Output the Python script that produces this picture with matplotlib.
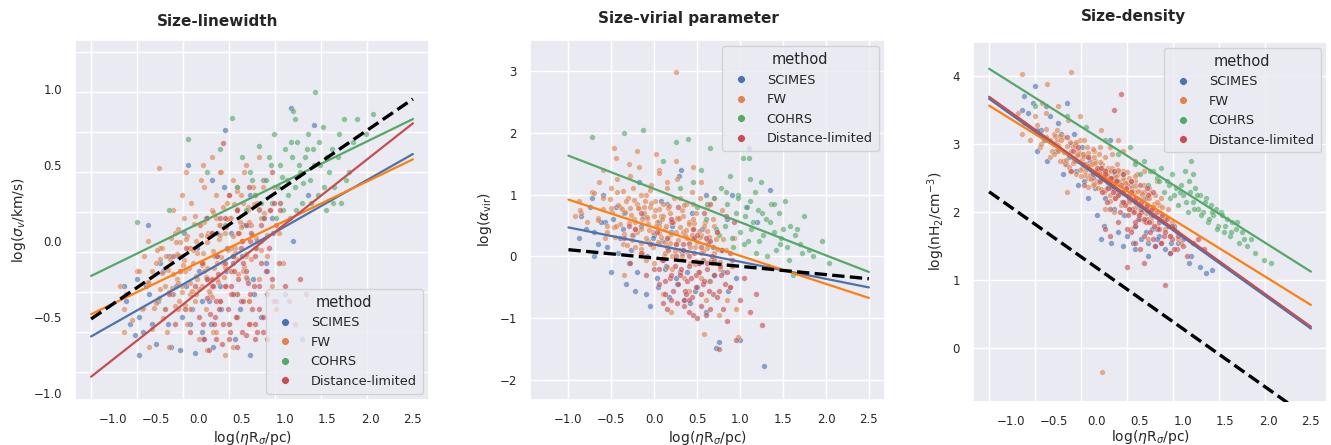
import numpy as np
import matplotlib
matplotlib.use("Agg")
import matplotlib.pyplot as plt
import seaborn as sns
from matplotlib.lines import Line2D

sns.set_theme(style="darkgrid")
plt.rcParams['font.family'] = ['DejaVu Sans']

### DATA
methods = ["SCIMES", "FW", "COHRS", "Distance-limited"]
point_colors = ["#4C72B0", "#DD8452", "#55A868", "#C44E52"]

# FW clouds: size, linewidth, virial parameter, density
fw_x = [-0.85, -0.78, -0.72, -0.66, -0.60, -0.55, -0.50, -0.47, -0.43, -0.40,
        -0.37, -0.34, -0.31, -0.28, -0.26, -0.24, -0.22, -0.20, -0.18, -0.16,
        -0.14, -0.12, -0.10, -0.09, -0.07, -0.05, -0.04, -0.02, 0.00, 0.01,
        0.03, 0.05, 0.06, 0.08, 0.10, 0.11, 0.13, 0.15, 0.16, 0.18,
        0.20, 0.21, 0.23, 0.25, 0.26, 0.28, 0.30, 0.32, 0.33, 0.35,
        0.37, 0.38, 0.40, 0.42, 0.44, 0.45, 0.47, 0.49, 0.51, 0.53,
        0.55, 0.57, 0.59, 0.61, 0.63, 0.65, 0.68, 0.70, 0.73, 0.76,
        0.79, 0.83, 0.88, 0.93, -0.92, -0.88, -0.64, -0.58, -0.30, -0.87,
        -0.45, -0.20, 0.05, 0.25, -0.35, 0.10, 0.40, 0.55, 0.70, 0.85,
        0.95, -0.15, 0.20, 0.45, 0.15, -0.60, 0.60, 0.30, 0.75, 0.02,
        0.25, 0.06, 0.98, 0.58, -0.47,
        -0.55, -0.52, -0.49, -0.46, -0.43, -0.40, -0.38, -0.35, -0.33, -0.30,
        -0.28, -0.26, -0.24, -0.22, -0.20, -0.18, -0.16, -0.14, -0.12, -0.10,
        -0.08, -0.06, -0.04, -0.02, 0.00, 0.02, 0.04, 0.06, 0.08, 0.10,
        0.12, 0.14, 0.16, 0.18, 0.20, 0.22, 0.24, 0.26, 0.28, 0.30,
        0.32, 0.34, 0.36, 0.38, 0.40, 0.42, 0.44, 0.46, 0.48, 0.50,
        0.52, 0.55, 0.58, 0.61, 0.64, 0.67, 0.70, 0.73, 0.76, 0.80,
        -0.50, -0.45, -0.42, -0.36, -0.32, -0.27, -0.23, -0.19, -0.15, -0.11,
        -0.07, -0.03, 0.01, 0.05, 0.09, 0.13, 0.17, 0.21, 0.25, 0.29,
        0.33, 0.37, 0.41, 0.45, 0.49, 0.53, 0.57, 0.62, 0.66, 0.72,
        -0.60, -0.65, -0.70, -0.05, 0.15, 0.35, 0.55, -0.25, 0.45, -0.10]
fw_sl = [-0.35, -0.52, -0.20, -0.45, -0.28, -0.58, -0.15, -0.38, -0.05, -0.30,
         -0.60, -0.12, -0.35, 0.05, -0.25, -0.45, -0.10, -0.30, 0.15, -0.20,
         -0.55, -0.05, -0.35, 0.25, -0.15, -0.40, 0.00, -0.25, -0.65, 0.10,
         -0.30, -0.08, 0.35, -0.45, -0.18, 0.05, -0.35, 0.20, -0.60, -0.10,
         0.30, -0.25, 0.10, -0.40, 0.45, -0.15, 0.05, -0.30, 0.25, -0.55,
         0.15, -0.20, 0.40, -0.05, 0.20, -0.35, 0.05, 0.30, -0.20, 0.45,
         -0.10, 0.20, -0.40, 0.10, 0.35, -0.05, 0.25, -0.25, 0.15, 0.40,
         -0.10, 0.20, 0.35, 0.05, -0.30, -0.60, -0.10, -0.70, 0.20, -0.45,
         -0.05, 0.30, 0.50, 0.45, -0.70, -0.72, -0.70, 0.50, 0.55, -0.30,
         0.25, 0.45, -0.60, 0.35, 0.55, 0.00, -0.55, -0.75, 0.35, 0.40,
         0.10, -0.20, -0.15, -0.40, 0.48,
         -0.20, -0.44, -0.06, -0.32, -0.21, -0.45, -0.10, -0.34, 0.02, -0.22,
         -0.43, -0.09, -0.28, -0.01, -0.34, -0.13, -0.42, 0.03, -0.18, -0.05,
         -0.33, 0.11, -0.23, -0.08, -0.32, 0.04, -0.16, 0.12, -0.24, -0.01,
         -0.33, 0.05, -0.07, -0.18, 0.15, -0.27, 0.01, -0.11, 0.22, -0.17,
         0.09, -0.06, 0.15, -0.20, 0.03, -0.08, 0.21, -0.22, 0.12, 0.00,
         0.25, -0.09, 0.12, -0.12, 0.24, 0.02, 0.21, -0.06, 0.18, 0.04,
         -0.41, -0.12, -0.51, -0.19, -0.31, -0.01, -0.40, -0.16, 0.01, -0.28,
         -0.06, -0.35, 0.10, -0.15, 0.03, -0.26, 0.19, -0.15, 0.04, -0.24,
         0.14, -0.05, 0.24, -0.12, 0.09, -0.17, 0.22, 0.04, 0.30, 0.00,
         -0.27, -0.44, -0.20, 0.16, -0.37, 0.30, -0.24, 0.08, 0.33, -0.45]
fw_vir = [0.70, 0.55, 1.05, 0.62, 0.95, 0.40, 1.10, 0.48, 1.25, 0.80,
          0.20, 0.72, 0.95, 1.30, 0.35, 0.60, 0.15, 0.85, 1.45, 0.45,
          0.05, 0.70, 1.00, 0.60, 0.25, 0.80, 1.15, 0.40, -0.10, 0.90,
          0.55, 0.20, 1.40, 0.65, 0.85, 0.00, 0.45, 1.10, 0.30, 0.70,
          0.55, -0.20, 0.95, 0.20, 1.25, 0.60, 0.10, 0.75, 0.40, -0.35,
          0.85, 0.30, 0.55, -0.10, 1.05, 0.45, 0.15, 0.70, -0.25, 0.95,
          0.35, -0.05, 0.55, 0.80, 0.20, -0.40, 0.60, 0.05, 0.40, -0.20,
          0.75, 0.10, -0.50, 0.30, 0.65, 0.90, 1.20, 0.30, 1.50, 0.75,
          1.60, 1.70, 1.35, 1.55, -0.30, -0.60, -0.55, 1.20, 0.95, -0.70,
          -0.85, 1.00, -0.90, 1.45, 1.20, 1.40, -0.70, 0.95, -0.95, 1.65,
          2.98, 0.50, -1.30, -1.25, 1.75,
          0.50, 0.93, 0.72, 0.31, 1.04, 0.53, 0.77, 0.36, 0.90, 0.54,
          0.78, 0.27, 0.91, 0.55, 0.39, 0.78, 0.12, 0.61, 0.80, 0.30,
          0.64, 0.43, 0.87, 0.16, 0.65, 0.49, 0.23, 0.77, 0.31, 0.66,
          0.05, 0.49, 0.78, 0.22, 0.36, 0.55, 0.09, 0.63, 0.27, 0.47,
          0.01, 0.65, 0.34, 0.08, 0.52, 0.16, 0.35, 0.54, -0.12, 0.23,
          0.42, 0.05, 0.49, 0.13, 0.31, -0.10, 0.49, 0.12, -0.09, 0.29,
          0.78, 0.50, 0.84, 1.06, 0.19, 0.67, 0.45, 0.79, 0.22, 0.90,
          0.53, 0.21, 0.75, 0.38, 0.61, 0.24, 0.82, 0.01, 0.39, 0.62,
          0.10, 0.43, 0.22, 0.60, -0.07, 0.31, 0.09, 0.42, -0.05, 0.28,
          0.77, 0.59, 1.02, 1.07, -0.17, 0.84, -0.35, 1.11, 0.85, -0.05]
fw_dens = [3.30, 3.05, 3.40, 2.95, 3.22, 2.80, 3.15, 3.05, 2.75, 3.10,
           2.70, 3.35, 2.60, 2.95, 3.00, 2.55, 2.90, 3.05, 2.65, 2.85,
           2.60, 2.95, 2.50, 2.80, 2.70, 2.40, 2.90, 2.75, 2.45, 2.35,
           2.95, 2.60, 2.70, 2.30, 2.80, 2.55, 2.65, 2.25, 2.40, 2.85,
           2.50, 2.20, 2.70, 2.55, 2.30, 2.10, 2.60, 2.45, 2.15, 2.40,
           2.05, 2.50, 2.35, 2.00, 2.45, 2.15, 2.55, 1.95, 2.30, 2.10,
           2.40, 1.90, 2.20, 2.35, 1.85, 2.05, 2.25, 1.80, 2.10, 1.95,
           1.75, 2.05, 1.85, 1.70, 3.45, 3.15, 3.60, 3.88, 4.05, 4.02,
           3.55, 3.40, 3.20, 3.05, 2.30, 2.05, 1.75, 2.60, 2.45, 1.65,
           1.60, 3.05, 2.00, 2.75, 2.95, 3.45, 1.60, 2.90, 2.20, 2.85,
           2.60, -0.34, 1.55, 1.90, 3.20,
           3.06, 2.89, 3.11, 2.89, 3.12, 2.74, 2.88, 2.97, 2.66, 2.89,
           2.72, 2.96, 2.75, 2.85, 2.62, 2.77, 2.85, 2.54, 2.69, 2.86,
           2.54, 2.71, 2.41, 2.72, 2.58, 2.44, 2.73, 2.48, 2.62, 2.32,
           2.54, 2.62, 2.36, 2.64, 2.40, 2.51, 2.24, 2.46, 2.28, 2.50,
           2.13, 2.33, 2.42, 2.18, 2.45, 2.20, 2.29, 2.07, 2.31, 2.19,
           2.05, 2.30, 2.08, 2.20, 1.93, 2.11, 2.15, 1.91, 2.07, 1.91,
           2.85, 2.98, 3.06, 2.76, 3.03, 2.74, 2.84, 2.53, 2.82, 2.67,
           2.48, 2.80, 2.62, 2.34, 2.61, 2.43, 2.60, 2.30, 2.61, 2.30,
           2.42, 2.14, 2.31, 2.38, 2.10, 2.27, 1.99, 2.28, 2.07, 1.90,
           3.10, 2.99, 3.28, 2.92, 2.16, 2.59, 1.87, 3.03, 2.53, 2.36]

# SCIMES clouds
sc_x = [-0.85, -0.80, -0.72, -0.65, -0.58, -0.50, -0.45, -0.40, -0.33, -0.27,
        -0.22, -0.18, -0.13, -0.10, -0.05, 0.00, 0.04, 0.08, 0.12, 0.17,
        0.21, 0.25, 0.29, 0.31, 0.35, 0.40, 0.44, 0.48, 0.52, 0.56,
        0.60, 0.64, 0.68, 0.72, 0.75, 0.80, 0.85, 0.90, 0.95, 1.00,
        1.07, 1.10, 1.20, 1.28, 1.35, -0.60, -0.35, 0.15, -0.70, 0.60,
        -0.70, -0.62, -0.55, -0.48, -0.42, -0.36, -0.30, -0.25, -0.20, -0.15,
        -0.08, -0.02, 0.03, 0.09, 0.14, 0.20, 0.26, 0.32, 0.38, 0.45,
        0.50, 0.57, 0.63, 0.70, 0.78, 0.86, -0.88, -0.75, 0.42, 0.05]
sc_sl = [-0.40, -0.55, -0.25, -0.60, -0.35, -0.68, -0.15, -0.45, -0.70, -0.30,
         -0.72, 0.05, 0.50, -0.55, -0.74, -0.20, -0.60, 0.15, -0.40, -0.70,
         0.05, -0.30, 0.35, 0.73, -0.55, -0.15, 0.20, -0.45, 0.10, -0.25,
         0.30, -0.35, 0.00, -0.50, 0.40, -0.20, 0.15, -0.40, 0.25, -0.35,
         0.87, 0.00, -0.65, 0.30, 0.76, 0.10, -0.10, 0.40, -0.75, -0.75,
         -0.50, -0.30, -0.55, -0.40, -0.20, -0.55, -0.35, -0.10, -0.50, -0.30,
         -0.45, -0.05, -0.40, -0.25, -0.55, -0.10, -0.45, -0.20, 0.05, -0.35,
         -0.10, 0.10, -0.25, 0.20, -0.15, 0.05, -0.30, -0.62, -0.65, -0.65]
sc_vir = [0.65, 0.45, 0.95, 0.20, 0.55, -0.25, 0.80, 0.30, -0.45, 0.10,
          -0.55, 1.20, 0.65, -0.60, -0.80, 0.35, -0.50, 0.90, -0.20, -0.65,
          0.50, -0.35, 1.30, 1.40, -0.70, 0.20, 0.70, -0.55, -0.10, 0.45,
          1.00, -0.40, 0.15, -1.48, -1.38, -0.25, 0.60, 1.00, -0.35, -1.35,
          0.80, 1.75, 0.55, -1.77, 1.08, 1.00, 0.70, 0.85, 0.00, -0.90,
          0.40, 0.55, 0.15, 0.60, 0.05, 0.45, -0.10, 0.35, -0.25, 0.50,
          0.00, 0.30, -0.35, 0.25, -0.15, 0.40, -0.45, 0.05, -0.25, 0.30,
          -0.50, -0.05, 0.25, -0.30, 0.10, -0.55, 0.30, 0.80, -0.75, 0.55]
sc_dens = [3.70, 3.45, 3.85, 3.20, 2.75, 3.00, 3.30, 2.55, 2.80, 3.15,
           2.40, 2.95, 2.70, 2.20, 2.50, 1.95, 2.65, 1.80, 2.35, 1.55,
           2.55, 1.70, 2.15, 1.50, 1.65, 2.40, 1.45, 1.90, 1.60, 2.20,
           1.55, 1.75, 1.50, 1.65, 1.90, 1.45, 1.40, 1.80, 1.55, 1.60,
           1.25, 1.35, 1.20, 1.10, 1.15, 3.55, 3.60, 3.05, 2.90, 1.35,
           3.20, 3.05, 3.40, 2.90, 3.15, 2.70, 3.00, 2.60, 2.85, 2.45,
           2.75, 2.35, 2.60, 2.20, 2.45, 2.05, 2.30, 1.95, 2.20, 1.80,
           2.05, 1.70, 1.95, 1.60, 1.85, 1.55, 3.50, 3.60, 1.55, 1.60]

# COHRS clouds
co_x = [0.45, 0.50, 0.55, 0.60, 0.65, 0.70, 0.75, 0.78, 0.82, 0.85,
        0.88, 0.92, 0.95, 0.98, 1.00, 1.03, 1.06, 1.09, 1.12, 1.15,
        1.18, 1.21, 1.24, 1.27, 1.30, 1.33, 1.36, 1.39, 1.42, 1.45,
        1.48, 1.52, 1.55, 1.58, 1.62, 1.66, 1.70, 1.75, 1.80, 1.85,
        1.95, 2.03, 0.39, -0.72, -0.13, -0.35, 0.10, 0.25, 1.10, 0.30,
        0.62, 0.72, 0.84, 0.90, 0.97, 1.04, 1.08, 1.13, 1.17, 1.22,
        1.26, 1.31, 1.35, 1.40, 1.46, 1.50, 1.57, 1.64, 1.72, 1.12]
co_sl = [0.35, 0.55, 0.20, 0.45, 0.30, 0.62, 0.15, 0.40, 0.55, 0.25,
         0.70, 0.35, 0.50, 0.20, 0.60, 0.40, 0.15, 0.55, 0.35, 0.65,
         0.45, 0.25, 0.55, 0.70, 0.40, 0.60, 0.98, 0.30, 0.50, 0.75,
         0.20, 0.45, 0.60, 0.35, 0.55, 0.25, 0.80, 0.45, 0.65, 0.80,
         0.70, 0.83, 0.81, 0.12, 0.67, 0.20, 0.45, 0.60, 0.85, 0.10,
         0.40, 0.25, 0.50, 0.15, 0.42, 0.30, 0.65, 0.20, 0.50, 0.38,
         0.60, 0.25, 0.50, 0.65, 0.35, 0.55, 0.25, 0.70, 0.40, 0.80]
co_vir = [1.20, 0.80, 1.40, 0.60, 1.75, 0.95, 0.35, 1.10, 0.50, 0.85,
          1.30, 0.15, 0.70, 1.00, 0.40, 1.60, 0.65, 0.25, 0.90, 0.55,
          0.05, 0.75, 1.20, 0.35, 0.60, -0.15, 0.85, 0.40, 0.10, 0.70,
          0.30, 0.90, 0.15, 0.50, -0.30, 0.45, 0.20, 0.65, 0.10, 0.00,
          0.25, -0.10, 1.90, 1.93, 2.05, 2.00, 1.55, 1.85, 1.60, 1.10,
          0.85, 0.45, 1.05, 0.30, 0.95, 0.20, 0.80, 0.45, 1.05, 0.25,
          0.70, 0.00, 0.55, 0.85, 0.20, 0.45, -0.05, 0.35, 0.05, 1.25]
co_dens = [2.70, 2.55, 2.75, 2.40, 2.60, 2.50, 2.65, 2.30, 2.45, 2.20,
           2.55, 2.35, 2.10, 2.40, 2.25, 2.60, 2.00, 2.30, 2.15, 2.35,
           2.05, 2.25, 2.00, 2.20, 1.85, 2.10, 1.95, 2.05, 1.80, 2.00,
           1.70, 1.90, 1.65, 1.85, 1.75, 1.55, 1.70, 1.50, 1.60, 1.40,
           1.30, 1.25, 2.95, 3.55, 3.25, 3.40, 3.05, 2.85, 2.75, 2.55,
           2.60, 2.45, 2.40, 2.25, 2.30, 2.15, 2.45, 2.05, 2.25, 1.95,
           2.15, 1.90, 2.00, 1.75, 1.95, 1.80, 1.70, 1.85, 1.60, 2.55]

# Distance-limited clouds
dl_x = [-0.35, -0.28, -0.22, -0.16, -0.10, -0.05, 0.00, 0.03, 0.06, 0.09,
        0.12, 0.15, 0.18, 0.21, 0.24, 0.27, 0.28, 0.30, 0.33, 0.36,
        0.38, 0.41, 0.44, 0.46, 0.49, 0.52, 0.55, 0.57, 0.60, 0.62,
        0.65, 0.68, 0.70, 0.73, 0.75, 0.78, 0.80, 0.83, 0.85, 0.88,
        0.90, 0.93, 0.95, 1.00, 1.05, 1.12, 1.18, 1.25, 0.20, 0.35,
        -0.15, 0.10, 0.45, 0.58, -0.30, 0.40, 0.25, 0.65, 0.15, 0.50,
        0.10, 0.13, 0.16, 0.19, 0.22, 0.25, 0.28, 0.31, 0.34, 0.37,
        0.40, 0.43, 0.46, 0.49, 0.52, 0.55, 0.58, 0.61, 0.64, 0.67,
        0.70, 0.73, 0.76, 0.79, 0.82, 0.85, 0.88, 0.20, 0.35, 0.50,
        0.65, 0.05, 0.15, 0.30, 0.45, 0.60, 0.75, 0.90, 0.40, 0.55]
dl_sl = [-0.35, -0.55, -0.20, -0.45, -0.60, -0.30, -0.50, -0.15, -0.65, -0.38,
         -0.72, -0.25, -0.55, -0.10, -0.45, -0.68, 0.64, -0.30, -0.05, -0.60,
         -0.35, -0.20, -0.50, 0.05, -0.40, -0.15, -0.62, -0.28, 0.00, -0.45,
         -0.10, -0.60, -0.30, 0.10, -0.50, -0.20, -0.65, 0.20, 0.45, -0.40,
         0.10, -0.15, 0.20, -0.30, -0.40, -0.55, -0.25, -0.35, -0.40, 0.30,
         -0.05, 0.15, -0.70, 0.35, -0.10, -0.10, 0.15, -0.55, -0.30, 0.00,
         -0.25, -0.48, -0.30, -0.50, -0.22, -0.40, -0.55, -0.15, -0.45, -0.30,
         -0.10, -0.50, -0.25, -0.05, -0.40, -0.20, -0.55, 0.05, -0.30, -0.05,
         -0.45, -0.15, 0.15, -0.35, -0.05, -0.25, 0.25, -0.65, -0.65, -0.60,
         -0.65, -0.55, 0.05, 0.15, 0.20, -0.35, -0.60, -0.45, -0.35, 0.10]
dl_vir = [0.30, -0.10, 0.45, 0.05, -0.30, 0.20, -0.20, 0.40, -0.45, -0.05,
          -0.60, 0.15, -0.35, 0.55, -0.15, -0.75, 0.80, -0.25, 0.10, -0.55,
          -0.40, 0.00, -0.65, 0.30, -0.30, -0.10, -0.80, -0.45, -0.95, -0.20,
          0.25, -0.60, -0.05, 0.40, -1.50, -0.30, -0.85, 0.65, -1.05, -0.50,
          -0.15, 0.55, -1.35, -0.70, -0.35, -0.90, -0.60, -1.10, 0.60, -0.70,
          0.70, -0.75, -0.95, 0.70, 0.50, -0.90, 0.20, 0.85, -0.85, -1.00,
          -0.05, -0.40, 0.10, -0.30, -0.55, 0.00, -0.45, -0.20, 0.20, -0.60,
          -0.15, -0.35, 0.05, -0.50, -0.25, 0.15, -0.40, -0.10, -0.55, 0.00,
          -0.30, -0.65, -0.15, 0.10, -0.45, -0.25, 0.05, -0.70, -0.80, 0.35,
          -0.85, -0.20, 0.30, -0.30, 0.45, 0.30, -0.55, -0.05, -0.70, -0.60]
dl_dens = [3.10, 2.90, 2.95, 2.70, 2.80, 2.55, 2.65, 2.45, 2.30, 2.60,
           2.15, 2.50, 2.35, 2.20, 2.45, 2.00, 3.73, 2.30, 2.10, 1.95,
           2.25, 2.05, 1.80, 2.15, 1.90, 2.00, 1.25, 1.85, 2.05, 1.70,
           1.95, 1.50, 1.75, 1.85, 1.55, 1.65, 0.93, 1.80, 1.40, 1.60,
           1.75, 1.45, 1.65, 1.50, 1.35, 1.55, 1.60, 1.45, 3.50, 1.20,
           2.40, 1.75, 1.55, 2.35, 2.60, 1.70, 1.85, 2.30, 1.65, 1.45,
           2.55, 2.35, 2.50, 2.30, 2.45, 2.25, 2.40, 2.15, 2.35, 2.05,
           2.30, 2.00, 2.20, 1.95, 2.15, 1.90, 2.10, 1.85, 2.05, 1.80,
           2.00, 1.75, 1.95, 1.70, 1.90, 1.65, 1.80, 2.60, 1.75, 2.40,
           1.60, 2.65, 2.05, 2.55, 1.85, 2.25, 1.55, 1.45, 2.45, 1.65]

# fitted relations: end points of each line
fit_x = [-1.26, 2.5]
fit_x_vir = [-1.0, 2.5]
line_colors = ["#4C72B0", "#FF7F0E", "#55A868", "#C44E52"]
sl_fits = {"SCIMES": [-0.63, 0.57], "FW": [-0.484, 0.535],
           "COHRS": [-0.232, 0.80], "Distance-limited": [-0.895, 0.772]}
sl_ref = [-0.515, 0.932]
vir_fits = {"SCIMES": [0.47, -0.50], "FW": [0.92, -0.67], "COHRS": [1.63, -0.25]}
vir_ref = [0.11, -0.36]
dens_fits = {"SCIMES": [3.66, 0.29], "FW": [3.56, 0.636],
             "COHRS": [4.10, 1.125], "Distance-limited": [3.69, 0.317]}
dens_ref = [2.296, -1.04]

xs = {"SCIMES": sc_x, "FW": fw_x, "COHRS": co_x, "Distance-limited": dl_x}
ys = [
    {"SCIMES": sc_sl, "FW": fw_sl, "COHRS": co_sl, "Distance-limited": dl_sl},
    {"SCIMES": sc_vir, "FW": fw_vir, "COHRS": co_vir, "Distance-limited": dl_vir},
    {"SCIMES": sc_dens, "FW": fw_dens, "COHRS": co_dens, "Distance-limited": dl_dens},
]
fits = [sl_fits, vir_fits, dens_fits]
refs = [sl_ref, vir_ref, dens_ref]
titles = ["Size-linewidth", "Size-virial parameter", "Size-density"]
ylabels = [r"log($\sigma_v$/km/s)", r"log($\alpha_{\rm vir}$)", r"log(nH$_2$/cm$^{-3}$)"]
xlabel = r"log($\eta$R$_\sigma$/pc)"

### FIGURE
W, H = 1331, 445
fig = plt.figure(figsize=(W / 100, H / 100), dpi=100)
boxes = [(75, 40, 429, 400), (530, 40, 885, 400), (973, 41.5, 1327, 401.5)]
title_pos = [(218, 21), (688, 19), (1134, 16)]
ylims = [(-1.048, 1.32), (-2.32, 3.50), (-0.78, 4.50)]
leg_loc = ["lower right", "upper right", "upper right"]

for i in range(3):
    l, t, r, b = boxes[i]
    ax = fig.add_axes([l / W, 1 - b / H, (r - l) / W, (b - t) / H])
    for m, c in zip(methods, point_colors):
        ax.scatter(xs[m], ys[i][m], s=17, color=c, alpha=0.62,
                   edgecolor="white", linewidth=0.3, zorder=2)
    lx = fit_x_vir if i == 1 else fit_x
    for m, c in zip(methods, line_colors):
        if m in fits[i]:
            ax.plot(lx, fits[i][m], color=c, lw=1.6, zorder=3)
    ax.plot(lx, refs[i], color="black", ls="--", lw=2.4, zorder=4)

    ax.set_xlim(-1.448, 2.688)
    ax.set_ylim(*ylims[i])
    ax.set_xticks([-1.0, -0.5, 0.0, 0.5, 1.0, 1.5, 2.0, 2.5])
    ax.tick_params(labelsize=8.5, colors=".15")
    ax.set_xlabel(xlabel, fontsize=10, labelpad=0.5 if i == 2 else 2)
    ax.set_ylabel(ylabels[i], fontsize=10)

    # the grid of panels 1 and 3 is not aligned with the tick labels
    if i != 1:
        ax.grid(False)
        ax.set_xticks(np.linspace(-1.264, 2.5, 8), minor=True)
        ax.xaxis.grid(True, which="minor")
        if i == 0:
            ax.set_yticks(np.linspace(-0.866, 1.243, 9), minor=True)
            ax.yaxis.grid(True, which="minor")
        else:
            ax.yaxis.grid(True, which="major")

    handles = [Line2D([], [], ls="", marker="o", markersize=5.5, color=c,
                      markeredgecolor="white", markeredgewidth=0.3)
               for c in point_colors]
    ax.legend(handles, methods, title="method", loc=leg_loc[i], fontsize=9.3,
              title_fontsize=10.5, handletextpad=1.0, borderpad=0.45)

    fig.text(title_pos[i][0] / W, 1 - title_pos[i][1] / H, titles[i],
             ha="center", va="center", fontsize=11, fontweight="bold")

fig.savefig("out.png", dpi=100)
